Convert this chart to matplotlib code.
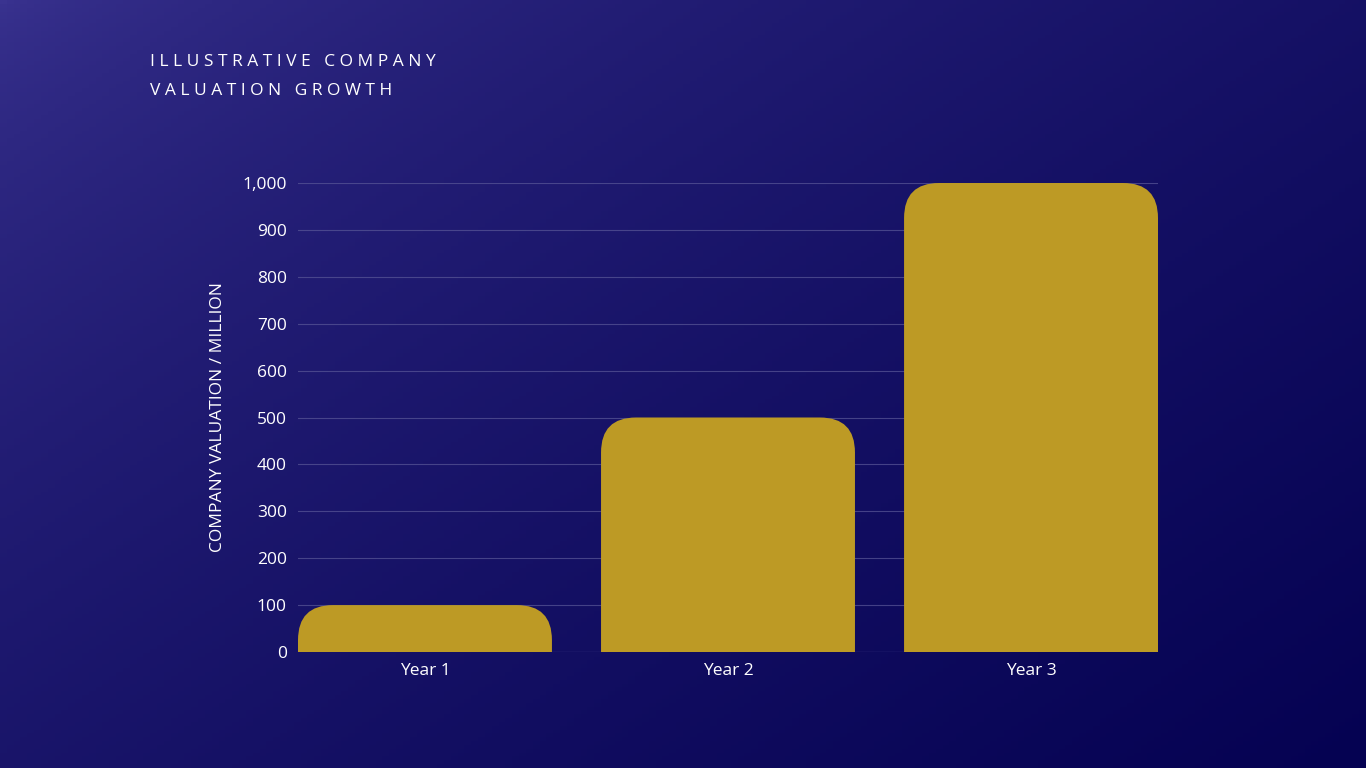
import matplotlib
matplotlib.use("Agg")
import matplotlib.pyplot as plt
import numpy as np
from matplotlib.path import Path
from matplotlib.patches import PathPatch

categories = ["Year 1", "Year 2", "Year 3"]
values = [100, 500, 1000]
yticks = [0, 100, 200, 300, 400, 500, 600, 700, 800, 900, 1000]

plt.rcParams['font.family'] = ['Open Sans', 'DejaVu Sans']
fig = plt.figure(figsize=(13.66, 7.68), dpi=100)

# gradient background
bg = fig.add_axes([0, 0, 1, 1])
yy, xx = np.mgrid[0:1:200j, 0:1:200j]
t = np.clip((xx * 0.55 + yy * 0.45), 0, 1)
c0 = np.array([0x3a, 0x33, 0x90]) / 255
c1 = np.array([0x05, 0x02, 0x52]) / 255
img = c0 * (1 - t[..., None]) + c1 * t[..., None]
img[..., :] = c0 * (1 - t[..., None]**0.6) + c1 * t[..., None]**0.6
bg.imshow(img, extent=[0, 1, 0, 1], aspect='auto', origin='upper')
bg.axis('off')

W, H = 1366, 768
ax = fig.add_axes([298 / W, (768 - 652) / H, 860 / W, 469 / H])
ax.patch.set_alpha(0)
xlim = (-0.419, 2.419)
ylim = (0, 1000)
ax.set_xlim(*xlim)
ax.set_ylim(*ylim)

px_x = 860 / (xlim[1] - xlim[0])
px_y = 469 / (ylim[1] - ylim[0])
r = 35
bw = 0.838
for i, v in enumerate(values):
    x0, x1 = i - bw / 2, i + bw / 2
    rx = r / px_x
    ry = min(r / px_y, v)
    verts = [(x0, 0), (x0, v - ry), (x0, v), (x0 + rx, v), (x1 - rx, v), (x1, v), (x1, v - ry), (x1, 0), (x0, 0)]
    codes = [Path.MOVETO, Path.LINETO, Path.CURVE3, Path.CURVE3, Path.LINETO, Path.CURVE3, Path.CURVE3, Path.LINETO, Path.CLOSEPOLY]
    ax.add_patch(PathPatch(Path(verts, codes), facecolor='#bd9a25', edgecolor='none', zorder=3))

ax.set_yticks(yticks)
ax.set_yticklabels([f"{v:,}" for v in yticks])
ax.set_xticks(range(len(categories)))
ax.set_xticklabels(categories)
ax.tick_params(colors='white', labelsize=12.5, length=0, pad=8)
ax.grid(axis='y', color='#5a5898', linewidth=0.8, alpha=0.7, zorder=0)
for s in ax.spines.values():
    s.set_visible(False)
ax.axhline(0, color='#6a68a8', linewidth=0.8, zorder=1)
ax.set_ylabel("COMPANY VALUATION / MILLION", color='white', fontsize=12.5, labelpad=12)

fig.text(150 / W, 1 - 62 / H, "I L L U S T R A T I V E   C O M P A N Y", color='white', fontsize=12.5, va='center')
fig.text(150 / W, 1 - 91 / H, "V A L U A T I O N   G R O W T H", color='white', fontsize=12.5, va='center')

fig.savefig("out.png", dpi=100)
